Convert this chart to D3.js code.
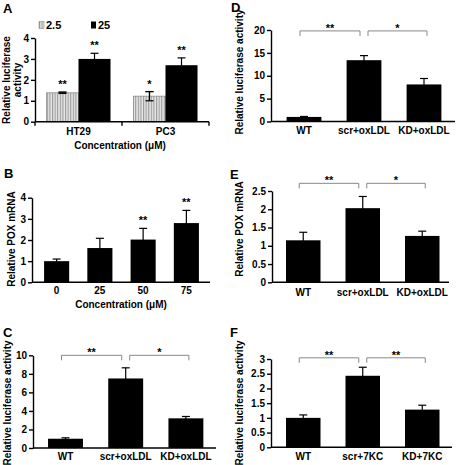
<!DOCTYPE html>
<html><head><meta charset="utf-8">
<script src="https://cdn.jsdelivr.net/npm/d3@7"></script>
<style>
body{margin:0;background:#fff;}
text{font-family:"Liberation Sans",Arial,sans-serif;font-weight:bold;fill:#000;}
</style></head>
<body><svg id="c" width="456" height="465"></svg>
<script>
// ---------- data ----------
const aGroups = ["HT29", "PC3"];
const aSeries = ["2.5", "25"];
const aValues = [[1.38, 3.0], [1.22, 2.7]];
const aErrors = [[0.03, 0.27], [0.22, 0.35]];
const aStars = [["**", "**"], ["*", "**"]];
const aTicks = [0, 1, 2, 3, 4];

const bCats = ["0", "25", "50", "75"];
const bValues = [1.0, 1.62, 2.02, 2.8];
const bErrors = [0.1, 0.46, 0.53, 0.6];
const bStars = ["", "", "**", "**"];
const bTicks = [0, 1, 2, 3, 4];

const cCats = ["WT", "scr+oxLDL", "KD+oxLDL"];
const cValues = [1.0, 7.5, 3.2];
const cErrors = [0.1, 1.15, 0.2];
const cTicks = [0, 2, 4, 6, 8, 10];
const cBrackets = [{a: 0, b: 1, v: 10, s: "**"}, {a: 1, b: 2, v: 10, s: "*"}];

const dCats = ["WT", "scr+oxLDL", "KD+oxLDL"];
const dValues = [1.0, 13.4, 8.1];
const dErrors = [0.1, 1.0, 1.3];
const dTicks = [0, 5, 10, 15, 20];
const dBrackets = [{a: 0, b: 1, v: 19.8, s: "**"}, {a: 1, b: 2, v: 19.8, s: "*"}];

const eCats = ["WT", "scr+oxLDL", "KD+oxLDL"];
const eValues = [1.15, 2.03, 1.27];
const eErrors = [0.22, 0.32, 0.13];
const eTicks = [0, 0.5, 1, 1.5, 2, 2.5];
const eBrackets = [{a: 0, b: 1, v: 2.71, s: "**"}, {a: 1, b: 2, v: 2.71, s: "*"}];

const fCats = ["WT", "scr+7KC", "KD+7KC"];
const fValues = [1.0, 2.43, 1.28];
const fErrors = [0.1, 0.29, 0.15];
const fTicks = [0, 0.5, 1, 1.5, 2, 2.5, 3];
const fBrackets = [{a: 0, b: 1, v: 3.04, s: "**"}, {a: 1, b: 2, v: 3.04, s: "**"}];

// ---------- drawing ----------
const svg = d3.select("#c");
const defs = svg.append("defs");
const pat = defs.append("pattern").attr("id", "hatch").attr("patternUnits", "userSpaceOnUse")
  .attr("width", 2.6).attr("height", 4);
pat.append("rect").attr("width", 2.6).attr("height", 4).attr("fill", "#e6e6e6");
pat.append("rect").attr("x", 0).attr("width", 1.1).attr("height", 4).attr("fill", "#9a9a9a");

const FS = 10;

function yAxis(g, y, axX, ticks) {
  const ax = d3.axisLeft(y).tickValues(ticks).tickSize(4).tickSizeOuter(0).tickPadding(2)
    .tickFormat(d => String(d));
  const gg = g.append("g").attr("transform", `translate(${axX},0)`).call(ax);
  gg.selectAll("path,line").attr("stroke", "#000").attr("stroke-width", 1.4);
  gg.selectAll("text").style("font-size", FS + "px").style("font-family", "Liberation Sans, Arial")
    .style("font-weight", "bold").attr("fill", "#000");
}

function xAxisLine(g, y0, xa, xb) {
  g.append("line").attr("x1", xa).attr("x2", xb).attr("y1", y0).attr("y2", y0)
    .attr("stroke", "#000").attr("stroke-width", 1.4);
}

function errBar(g, cx, y, v, e, cap) {
  g.append("line").attr("x1", cx).attr("x2", cx).attr("y1", y(v - e)).attr("y2", y(v + e))
    .attr("stroke", "#000").attr("stroke-width", 1.2);
  [v + e, v - e].forEach(t => g.append("line").attr("x1", cx - cap / 2).attr("x2", cx + cap / 2)
    .attr("y1", y(t)).attr("y2", y(t)).attr("stroke", "#000").attr("stroke-width", 1.2));
}

function yLabel(lines, x, cy, lh) {
  lines.forEach((t, i) => {
    svg.append("text").attr("transform", `translate(${x + i * lh},${cy}) rotate(-90)`)
      .attr("text-anchor", "middle").style("font-size", FS + "px").text(t);
  });
}

function letter(t, x, y) {
  svg.append("text").attr("x", x).attr("y", y).style("font-size", "13px").text(t);
}

function simplePanel(o) {
  const g = svg.append("g");
  const y = d3.scaleLinear().domain([0, o.ticks[o.ticks.length - 1]]).range([o.y0, o.yTop]);
  const x = d3.scaleBand().domain(o.cats).range([o.bx0, o.bx1]).paddingInner(o.pad).paddingOuter(o.pad / 2);
  o.cats.forEach((c, i) => errBar(g, x(c) + x.bandwidth() / 2, y, o.values[i], o.errors[i], 8));
  g.selectAll("rect.bar").data(o.values).join("rect").attr("class", "bar")
    .attr("x", (d, i) => x(o.cats[i])).attr("width", x.bandwidth())
    .attr("y", d => y(d)).attr("height", d => o.y0 - y(d)).attr("fill", "#000");
  yAxis(g, y, o.axX, o.ticks);
  xAxisLine(g, o.y0, o.axX, o.axEnd);
  g.selectAll("text.cat").data(o.cats).join("text").attr("class", "cat")
    .attr("x", c => x(c) + x.bandwidth() / 2).attr("y", o.labelY).attr("text-anchor", "middle")
    .style("font-size", FS + "px").text(c => c);
  if (o.stars) {
    o.cats.forEach((c, i) => {
      if (!o.stars[i]) return;
      g.append("text").attr("x", x(c) + x.bandwidth() / 2).attr("y", y(o.values[i] + o.errors[i]) - 4)
        .attr("text-anchor", "middle").style("font-size", "11px").text(o.stars[i]);
    });
  }
  if (o.brackets) {
    o.brackets.forEach(b => {
      const ca = x(o.cats[b.a]) + x.bandwidth() / 2, cb = x(o.cats[b.b]) + x.bandwidth() / 2;
      const xa = b.a === 0 ? ca - 4 : ca + 4;
      const xb = b.b === o.cats.length - 1 ? cb + 3 : cb - 4;
      const yy = y(b.v);
      g.append("path").attr("d", `M${xa},${yy + 5}V${yy}H${xb}V${yy + 5}`)
        .attr("fill", "none").attr("stroke", "#888").attr("stroke-width", 1);
      g.append("text").attr("x", (xa + xb) / 2).attr("y", yy + 1).attr("text-anchor", "middle")
        .style("font-size", "11px").text(b.s);
    });
  }
  if (o.xTitle) {
    g.append("text").attr("x", o.xTitleX).attr("y", o.xTitleY).attr("text-anchor", "middle")
      .style("font-size", FS + "px").text(o.xTitle);
  }
}

// ----- Panel A (grouped) -----
(function () {
  const g = svg.append("g");
  const y0 = 121.7;
  const y = d3.scaleLinear().domain([0, 4]).range([y0, 38]);
  const x = d3.scaleBand().domain(aGroups).range([35, 209]).paddingInner(0.264).paddingOuter(0.132);
  const xi = d3.scaleBand().domain(aSeries).range([0, x.bandwidth()]);
  aGroups.forEach((grp, gi) => {
    aSeries.forEach((s, si) => {
      const bx = x(grp) + xi(s), v = aValues[gi][si], e = aErrors[gi][si];
      errBar(g, bx + xi.bandwidth() / 2, y, v, e, 8);
      g.append("rect").attr("x", bx).attr("width", xi.bandwidth()).attr("y", y(v)).attr("height", y0 - y(v))
        .attr("fill", si === 0 ? "url(#hatch)" : "#000").attr("stroke", si === 0 ? "#8a8a8a" : "none")
        .attr("stroke-width", 0.8);
      if (si === 0) errBar(g, bx + xi.bandwidth() / 2, y, v, e, 8);
      g.append("text").attr("x", bx + xi.bandwidth() / 2).attr("y", y(v + e) - 4).attr("text-anchor", "middle")
        .style("font-size", "11px").text(aStars[gi][si]);
    });
  });
  yAxis(g, y, 35, aTicks);
  xAxisLine(g, y0, 35, 209);
  [35, (x("HT29") + x.bandwidth() + x("PC3")) / 2, 209].forEach(tx =>
    g.append("line").attr("x1", tx).attr("x2", tx).attr("y1", y0).attr("y2", y0 + 4)
      .attr("stroke", "#000").attr("stroke-width", 1.4));
  aGroups.forEach(grp => g.append("text").attr("x", x(grp) + x.bandwidth() / 2).attr("y", 135)
    .attr("text-anchor", "middle").style("font-size", FS + "px").text(grp));
  g.append("text").attr("x", 120).attr("y", 149).attr("text-anchor", "middle").style("font-size", FS + "px")
    .text("Concentration (μM)");
  const lg = g.append("g");
  aSeries.forEach((s, i) => {
    const lx = i === 0 ? 39 : 91;
    lg.append("rect").attr("x", lx).attr("y", 21.5).attr("width", 5).attr("height", 7)
      .attr("fill", i === 0 ? "url(#hatch)" : "#000").attr("stroke", i === 0 ? "#8a8a8a" : "none").attr("stroke-width", 0.6);
    lg.append("text").attr("x", lx + 7).attr("y", 29).style("font-size", "11px").text(s);
  });
})();
letter("A", 3, 13);
yLabel(["Relative luciferase", "activity"], 10, 80, 11);

// ----- Panel B -----
simplePanel({cats: bCats, values: bValues, errors: bErrors, ticks: bTicks, stars: bStars,
  y0: 282.3, yTop: 197.7, bx0: 35, bx1: 208, pad: 0.42, axX: 32, axEnd: 210, labelY: 294,
  xTitle: "Concentration (μM)", xTitleX: 121, xTitleY: 308});
letter("B", 4, 178);
yLabel(["Relative POX mRNA"], 15, 239, 0);

// ----- Panel C -----
simplePanel({cats: cCats, values: cValues, errors: cErrors, ticks: cTicks, brackets: cBrackets,
  y0: 448, yTop: 355.3, bx0: 35.4, bx1: 216, pad: 0.42, axX: 33, axEnd: 216, labelY: 460});
letter("C", 3, 337);
yLabel(["Relative luciferase activity"], 11, 403, 0);

// ----- Panel D -----
simplePanel({cats: dCats, values: dValues, errors: dErrors, ticks: dTicks, brackets: dBrackets,
  y0: 121.5, yTop: 30, bx0: 274, bx1: 454, pad: 0.42, axX: 271, axEnd: 455, labelY: 134});
letter("D", 231, 12);
yLabel(["Relative luciferase activity"], 243, 72, 0);

// ----- Panel E -----
simplePanel({cats: eCats, values: eValues, errors: eErrors, ticks: eTicks, brackets: eBrackets,
  y0: 282.3, yTop: 191, bx0: 273.5, bx1: 452, pad: 0.42, axX: 272, axEnd: 449, labelY: 296});
letter("E", 230, 179);
yLabel(["Relative POX mRNA"], 243, 229, 0);

// ----- Panel F -----
simplePanel({cats: fCats, values: fValues, errors: fErrors, ticks: fTicks, brackets: fBrackets,
  y0: 447.3, yTop: 359, bx0: 273.5, bx1: 452, pad: 0.42, axX: 271, axEnd: 452, labelY: 460});
letter("F", 230, 337);
yLabel(["Relative luciferase activity"], 243, 403, 0);
</script></body></html>
